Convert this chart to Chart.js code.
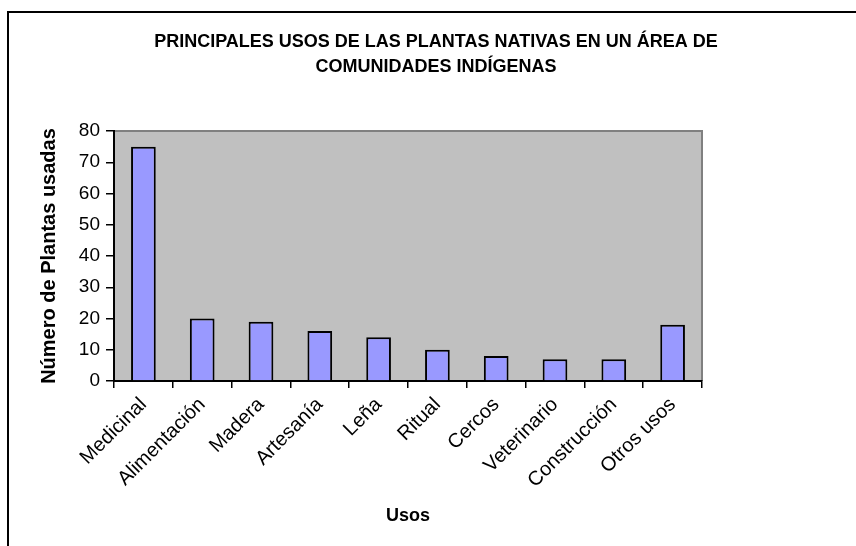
<!DOCTYPE html>
<html>
<head>
<meta charset="utf-8">
<script src="https://cdn.jsdelivr.net/npm/chart.js@4"></script>
<style>
  html, body { margin: 0; padding: 0; background: #ffffff; }
  #wrap { position: relative; width: 856px; height: 546px; overflow: hidden; }
  #frame { position: absolute; left: 7px; top: 11px; width: 900px; height: 600px; border: 2px solid #000; box-sizing: border-box; }
  canvas { position: absolute; left: 0; top: 0; }
</style>
</head>
<body>
<div id="wrap">
  <div id="frame"></div>
  <canvas id="c" width="856" height="546" style="width:856px;height:546px"></canvas>
</div>
<script>
const titleLines = ["PRINCIPALES USOS DE LAS PLANTAS NATIVAS EN UN ÁREA DE", "COMUNIDADES INDÍGENAS"];
const categories = ["Medicinal", "Alimentación", "Madera", "Artesanía", "Leña", "Ritual", "Cercos", "Veterinario", "Construcción", "Otros usos"];
const values = [75, 20, 19, 16, 14, 10, 8, 7, 7, 18];
const yTitle = "Número de Plantas usadas";
const xTitle = "Usos";

const FONT = "'Liberation Sans', Arial, sans-serif";

const bgPlugin = {
  id: 'plotBg',
  beforeDraw(chart) {
    const {ctx, chartArea: a} = chart;
    ctx.save();
    ctx.fillStyle = '#C0C0C0';
    ctx.fillRect(a.left, a.top, a.right - a.left, a.bottom - a.top);
    ctx.strokeStyle = '#808080';
    ctx.lineWidth = 2;
    ctx.beginPath();
    ctx.moveTo(a.left, a.top);
    ctx.lineTo(a.right, a.top);
    ctx.lineTo(a.right, a.bottom);
    ctx.stroke();
    ctx.restore();
  },
  afterDraw(chart) {
    const {ctx} = chart;
    ctx.save();
    ctx.fillStyle = '#000';
    ctx.font = "bold 18px " + FONT;
    ctx.textAlign = 'center';
    ctx.textBaseline = 'middle';
    ctx.fillText(titleLines[0], 436, 42);
    ctx.fillText(titleLines[1], 436, 67);
    ctx.restore();
  }
};

new Chart(document.getElementById('c'), {
  type: 'bar',
  data: {
    labels: categories,
    datasets: [{
      data: values,
      backgroundColor: '#9999FF',
      borderColor: '#000000',
      borderWidth: 2,
      categoryPercentage: 1,
      barPercentage: 0.42
    }]
  },
  options: {
    responsive: false,
    animation: false,
    devicePixelRatio: 1,
    layout: { padding: { top: 131, right: 154, left: 0, bottom: 0 } },
    plugins: { legend: { display: false }, title: { display: false }, tooltip: { enabled: false } },
    scales: {
      x: {
        offset: true,
        grid: { offset: true, drawOnChartArea: false, drawTicks: true, tickLength: 7, color: '#000', lineWidth: 1.5 },
        border: { display: true, color: '#000', width: 2 },
        ticks: { color: '#000', font: { family: FONT, size: 20 }, minRotation: 45, maxRotation: 45, padding: 5, autoSkip: false },
        title: { display: true, text: xTitle, color: '#000', font: { family: FONT, size: 18, weight: 'bold' }, padding: { top: 0, bottom: 19 } },
        afterFit(scale) { scale.height = 165; }
      },
      y: {
        min: 0, max: 80,
        grid: { drawOnChartArea: false, drawTicks: true, tickLength: 8, color: '#000', lineWidth: 1.5 },
        border: { display: true, color: '#000', width: 2 },
        ticks: { stepSize: 10, color: '#000', font: { family: FONT, size: 19 }, padding: 6 },
        title: { display: true, text: yTitle, color: '#000', font: { family: FONT, size: 20, weight: 'bold' }, padding: { top: 37, bottom: 0 } },
        afterFit(scale) { scale.width = 114; }
      }
    }
  },
  plugins: [bgPlugin]
});
</script>
</body>
</html>
